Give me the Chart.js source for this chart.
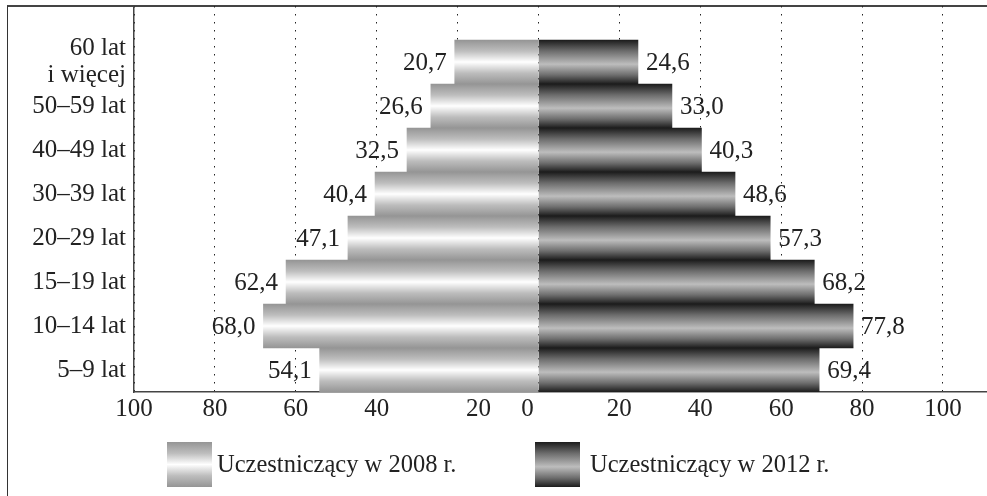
<!DOCTYPE html>
<html>
<head>
<meta charset="utf-8">
<script src="https://cdn.jsdelivr.net/npm/chart.js@4"></script>
<style>
    html, body { margin: 0; padding: 0; background: #fff; }
    #wrap { position: relative; width: 987px; height: 496px; overflow: hidden; }
    #frame { position: absolute; left: 7px; top: 5px; width: 990px; height: 500px;
             border-left: 1px solid #333; border-top: 2px solid #444; }
    #chart { position: absolute; left: 0; top: 0; }
</style>
</head>
<body>
<div id="wrap">
    <div id="frame"></div>
    <canvas id="chart" width="987" height="496"></canvas>
</div>
<script>
// Data
const ageGroups = [['60 lat', 'i więcej'], '50–59 lat', '40–49 lat', '30–39 lat',
                   '20–29 lat', '15–19 lat', '10–14 lat', '5–9 lat'];
const values2008 = [20.7, 26.6, 32.5, 40.4, 47.1, 62.4, 68.0, 54.1];
const values2012 = [24.6, 33.0, 40.3, 48.6, 57.3, 68.2, 77.8, 69.4];
const seriesNames = ['Uczestniczący w 2008 r.', 'Uczestniczący w 2012 r.'];
const xTicks = [-100, -80, -60, -40, -20, 0, 20, 40, 60, 80, 100];
const xTickLabels = ['100', '80', '60', '40', '20', '0', '20', '40', '60', '80', '100'];

const FAMILY = '"Liberation Serif", serif';
const FONT = '25px ' + FAMILY;
const LEGEND_FONT = '24.5px ' + FAMILY;
const TEXT = '#222';

// gradient stops for the two series
const lightStops = [[0, '#959595'], [0.25, '#bdbdbd'], [0.5, '#ffffff'], [0.75, '#bdbdbd'], [1, '#959595']];
const darkStops = [[0, '#1c1c1c'], [0.25, '#6c6c6c'], [0.55, '#bdbdbd'], [0.8, '#6c6c6c'], [1, '#1c1c1c']];

function makeGrad(c, top, bottom, stops) {
    const g = c.createLinearGradient(0, top, 0, bottom);
    stops.forEach(s => g.addColorStop(s[0], s[1]));
    return g;
}

function barFill(stops) {
    return ctx => {
        const y = ctx.chart.scales.y;
        if (!y || ctx.type !== 'data') return stops[0][1];
        const i = ctx.dataIndex;
        const top = y.getPixelForValue(i - 0.5);
        const bottom = y.getPixelForValue(i + 0.5);
        if (!isFinite(top) || !isFinite(bottom)) return stops[0][1];
        return makeGrad(ctx.chart.ctx, top, bottom, stops);
    };
}

const fmt = v => Math.abs(v).toFixed(1).replace('.', ',');

// value labels next to bar ends
const valueLabels = {
    id: 'valueLabels',
    afterDatasetsDraw(chart) {
        const c = chart.ctx;
        c.save();
        c.font = FONT;
        c.fillStyle = TEXT;
        c.textBaseline = 'middle';
        chart.data.datasets.forEach((ds, di) => {
            chart.getDatasetMeta(di).data.forEach((el, i) => {
                const v = ds.data[i].x;
                if (v < 0) {
                    c.textAlign = 'right';
                    c.fillText(fmt(v), el.x - 8, el.y + 1);
                } else {
                    c.textAlign = 'left';
                    c.fillText(fmt(v), el.x + 8, el.y + 1);
                }
            });
        });
        c.restore();
    }
};

// x tick labels (two of them sit off their ticks in the original)
const labelShift = { '-20': 21, '0': -11 };
const xLabels = {
    id: 'xLabels',
    afterDraw(chart) {
        const c = chart.ctx;
        const x = chart.scales.x;
        c.save();
        c.font = FONT;
        c.fillStyle = TEXT;
        c.textAlign = 'center';
        c.textBaseline = 'middle';
        xTicks.forEach((v, i) => {
            const px = x.getPixelForValue(v) + (labelShift[v] || 0);
            c.fillText(xTickLabels[i], px, chart.chartArea.bottom + 17);
        });
        c.restore();
    }
};

// legend under the axis
const legendBox = {
    id: 'legendBox',
    afterDraw(chart) {
        const c = chart.ctx;
        const stops = [lightStops, darkStops];
        const boxX = [167, 535];
        const textGap = [5, 10];
        const top = 442, size = 45;
        c.save();
        c.font = LEGEND_FONT;
        c.textBaseline = 'middle';
        c.textAlign = 'left';
        seriesNames.forEach((name, i) => {
            c.fillStyle = makeGrad(c, top, top + size, stops[i]);
            c.fillRect(boxX[i], top, size, size);
            c.fillStyle = TEXT;
            c.fillText(name, boxX[i] + size + textGap[i], top + size / 2 + 1);
        });
        c.restore();
    }
};

const chart = new Chart(document.getElementById('chart'), {
    type: 'bar',
    data: {
        datasets: [
            {
                label: seriesNames[0],
                data: values2008.map((v, i) => ({ x: -v, y: i })),
                backgroundColor: barFill(lightStops)
            },
            {
                label: seriesNames[1],
                data: values2012.map((v, i) => ({ x: v, y: i })),
                backgroundColor: barFill(darkStops)
            }
        ]
    },
    options: {
        indexAxis: 'y',
        responsive: false,
        animation: false,
        devicePixelRatio: 1,
        layout: { padding: { top: 6, left: 0, right: 0, bottom: 0 } },
        datasets: { bar: { grouped: false, barPercentage: 1, categoryPercentage: 1, borderWidth: 0 } },
        plugins: { legend: { display: false }, tooltip: { enabled: false } },
        scales: {
            x: {
                type: 'linear',
                min: -100,
                max: 110.9,
                afterBuildTicks: axis => { axis.ticks = xTicks.map(v => ({ value: v })); },
                afterFit: axis => { axis.height = 104; axis.paddingLeft = 0; axis.paddingRight = 0; },
                ticks: { display: false },
                grid: { color: '#222', lineWidth: 1, drawTicks: false },
                border: { display: true, color: '#444', width: 1.5, dash: [1.5, 6.5] }
            },
            y: {
                type: 'linear',
                reverse: true,
                offset: false,
                min: -1.273,
                max: 7.5,
                afterBuildTicks: axis => { axis.ticks = ageGroups.map((_, i) => ({ value: i })); },
                afterFit: axis => { axis.width = 134; axis.paddingTop = 0; axis.paddingBottom = 0; },
                ticks: {
                    autoSkip: false,
                    padding: 8,
                    color: TEXT,
                    font: { family: FAMILY, size: 25, lineHeight: 1.1 },
                    callback: v => ageGroups[v]
                },
                grid: { drawOnChartArea: false, drawTicks: false },
                border: { display: true, color: '#444', width: 1.5 }
            }
        }
    },
    plugins: [valueLabels, xLabels, legendBox]
});
</script>
</body>
</html>
